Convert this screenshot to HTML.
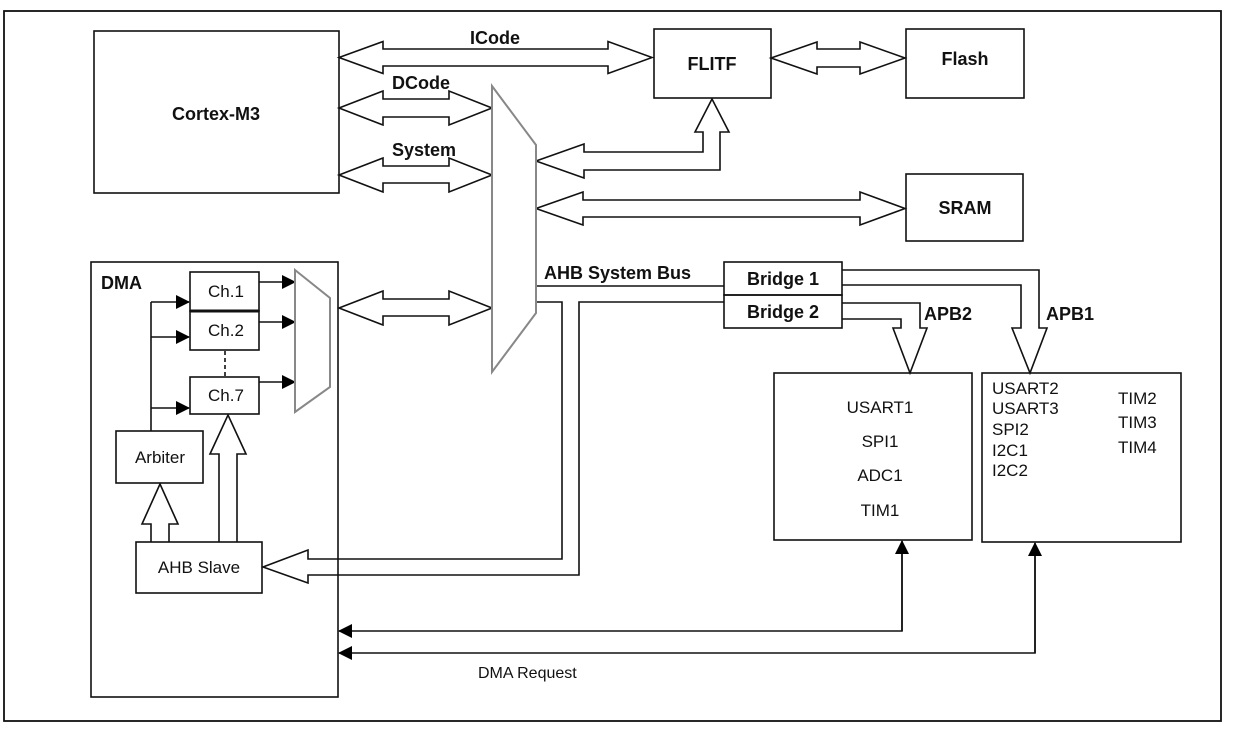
<!DOCTYPE html>
<html><head><meta charset="utf-8"><style>
html,body{margin:0;padding:0;background:#fff;}
svg{display:block;}
text{font-family:"Liberation Sans",Arial,sans-serif;fill:#111;}
.b{font-weight:bold;font-size:18px;}
.n{font-size:17px;}
</style></head><body>
<svg width="1236" height="734" viewBox="0 0 1236 734" xmlns="http://www.w3.org/2000/svg">
<defs>
<marker id="ah" markerWidth="14" markerHeight="14" refX="13" refY="7" orient="auto" markerUnits="userSpaceOnUse">
<path d="M0,0 L14,7 L0,14 Z" fill="#000"/>
</marker>
</defs>
<g fill="none" stroke="#111" stroke-width="1.6">
<rect x="4" y="11" width="1217" height="710" stroke-width="1.8"/>
<rect x="94" y="31" width="245" height="162"/>
<rect x="654" y="29" width="117" height="69"/>
<rect x="906" y="29" width="118" height="69"/>
<rect x="906" y="174" width="117" height="67"/>
<rect x="91" y="262" width="247" height="435"/>
<rect x="190" y="272" width="69" height="39"/>
<rect x="190" y="311" width="69" height="39"/>
<line x1="190" y1="311" x2="259" y2="311" stroke-width="3"/>
<rect x="190" y="377" width="69" height="37"/>
<line x1="225" y1="351" x2="225" y2="377" stroke-dasharray="4,3"/>
<rect x="116" y="431" width="87" height="52"/>
<rect x="136" y="542" width="126" height="51"/>
<rect x="724" y="262" width="118" height="33"/>
<rect x="724" y="295" width="118" height="33"/>
<rect x="774" y="373" width="198" height="167"/>
<rect x="982" y="373" width="199" height="169"/>
<polygon fill="#fff" points="339,57.5 383,41.5 383,49 608,49 608,41.5 652,57.5 608,73.5 608,66 383,66 383,73.5"/>
<polygon fill="#fff" points="771,58 817,42 817,49 860,49 860,42 905,58 860,74 860,67 817,67 817,74"/>
<polygon fill="#fff" points="339,108 383,91 383,99 449,99 449,91 492,108 449,125 449,117 383,117 383,125"/>
<polygon fill="#fff" points="339,175 383,158 383,166 449,166 449,158 492,175 449,192 449,183 383,183 383,192"/>
<polygon fill="#fff" points="339,308 383,291 383,299 449,299 449,291 492,308 449,325 449,316 383,316 383,325"/>
<polygon fill="#fff" points="536,208.5 583,192 583,200 860,200 860,192 905,208.5 860,225 860,217 583,217 583,225"/>
<polygon fill="#fff" points="536,161 584,144 584,152 703,152 703,132 695,132 712,99 729,132 720,132 720,170 584,170 584,178"/>
<line x1="536" y1="286" x2="724" y2="286"/>
<polyline points="536,302 562,302 562,559 308,559 308,550 263,567 308,583 308,575 579,575 579,302 724,302"/>
<polyline points="842,270 1039,270 1039,328 1047,328 1030,373 1012,328 1021,328 1021,285 842,285"/>
<polyline points="842,303 920,303 920,328 927,328 910,373 893,328 901,328 901,319 842,319"/>
<polyline points="151,542 151,524 142,524 160,484 178,524 169,524 169,542"/>
<polyline points="219,542 219,454 210,454 228,415 246,454 237,454 237,542"/>
<line x1="151" y1="302" x2="151" y2="431"/>
<line x1="151" y1="302" x2="189" y2="302" marker-end="url(#ah)"/>
<line x1="151" y1="337" x2="189" y2="337" marker-end="url(#ah)"/>
<line x1="151" y1="408" x2="189" y2="408" marker-end="url(#ah)"/>
<line x1="259" y1="282" x2="295" y2="282" marker-end="url(#ah)"/>
<line x1="259" y1="322" x2="295" y2="322" marker-end="url(#ah)"/>
<line x1="259" y1="382" x2="295" y2="382" marker-end="url(#ah)"/>
<polyline points="902,542 902,631 339,631" marker-end="url(#ah)"/>
<line x1="902" y1="631" x2="902" y2="541" marker-end="url(#ah)"/>
<polyline points="1035,545 1035,653 339,653" marker-end="url(#ah)"/>
<line x1="1035" y1="653" x2="1035" y2="543" marker-end="url(#ah)"/>
</g>
<polygon points="492,86 536,145 536,313 492,372" fill="#fff" stroke="#888" stroke-width="2"/>
<polygon points="295,270 330,298 330,387 295,412" fill="#fff" stroke="#888" stroke-width="2"/>
<text class="b" x="216" y="120" text-anchor="middle">Cortex-M3</text>
<text class="b" x="470" y="44">ICode</text>
<text class="b" x="392" y="89">DCode</text>
<text class="b" x="392" y="156">System</text>
<text class="b" x="712" y="70" text-anchor="middle">FLITF</text>
<text class="b" x="965" y="65" text-anchor="middle">Flash</text>
<text class="b" x="965" y="214" text-anchor="middle">SRAM</text>
<text class="b" x="101" y="289">DMA</text>
<text class="n" x="226" y="297" text-anchor="middle">Ch.1</text>
<text class="n" x="226" y="336" text-anchor="middle">Ch.2</text>
<text class="n" x="226" y="401" text-anchor="middle">Ch.7</text>
<text class="n" x="160" y="463" text-anchor="middle">Arbiter</text>
<text class="n" x="199" y="573" text-anchor="middle">AHB Slave</text>
<text class="b" x="544" y="279">AHB System Bus</text>
<text class="b" x="783" y="285" text-anchor="middle">Bridge 1</text>
<text class="b" x="783" y="318" text-anchor="middle">Bridge 2</text>
<text class="b" x="924" y="320">APB2</text>
<text class="b" x="1046" y="320">APB1</text>
<text class="n" x="880" y="413" text-anchor="middle">USART1</text>
<text class="n" x="880" y="447" text-anchor="middle">SPI1</text>
<text class="n" x="880" y="481" text-anchor="middle">ADC1</text>
<text class="n" x="880" y="516" text-anchor="middle">TIM1</text>
<text class="n" x="992" y="394">USART2</text>
<text class="n" x="992" y="414">USART3</text>
<text class="n" x="992" y="435">SPI2</text>
<text class="n" x="992" y="456">I2C1</text>
<text class="n" x="992" y="476">I2C2</text>
<text class="n" x="1118" y="404">TIM2</text>
<text class="n" x="1118" y="428">TIM3</text>
<text class="n" x="1118" y="453">TIM4</text>
<text x="478" y="678" style="font-size:16px">DMA Request</text>
</svg>
</body></html>
